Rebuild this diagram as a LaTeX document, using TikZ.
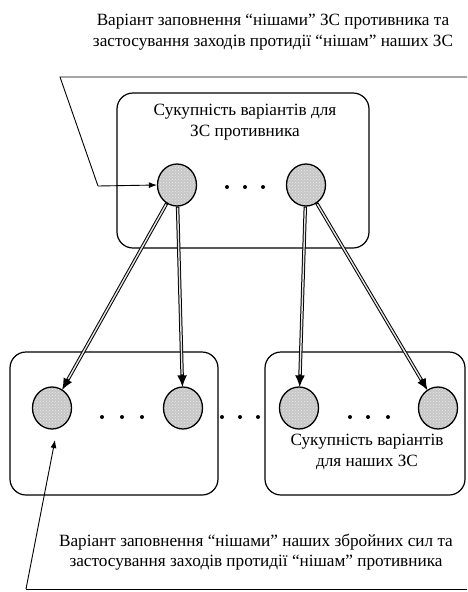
\documentclass[tikz,border=0pt]{standalone}
\usepackage{fontspec}
\setmainfont{Liberation Serif}
\usetikzlibrary{shapes.geometric,patterns,arrows.meta}

\tikzset{
  varbox/.style={draw, line width=1.2pt, rounded corners=16pt},
  niche/.style={ellipse, draw, line width=1.3pt, minimum width=39pt, minimum height=42pt,
    preaction={fill=gray!45}, pattern=crosshatch dots, pattern color=white!85!gray},
  caption/.style={align=center, font=\fontsize{17.2}{20.5}\selectfont},
  link/.style={line width=3.4pt, -{Latex[length=12pt,width=10pt]}, shorten >=-1pt,
    postaction={draw=gray!20, line width=1.4pt, -, shorten >=12pt, shorten <=1pt}},
  pointer/.style={line width=0.9pt, -{Latex[length=8pt,width=6pt]}}
}

\begin{document}
\begin{tikzpicture}[x=1pt,y=-1pt]
  \useasboundingbox (0,0) rectangle (467,592);

  % groups of variants
  \node[varbox, minimum width=252pt, minimum height=155pt] (enemy) at (243,170.5) {};
  \node[varbox, minimum width=208pt, minimum height=143pt] (oursA) at (114,423.5) {};
  \node[varbox, minimum width=200pt, minimum height=143pt] (oursB) at (365,423.5) {};

  % texts
  \node[caption] (toptxt) at (273,32) {Варіант заповнення “нішами” ЗС противника та\\застосування заходів протидії “нішам” наших ЗС};
  \node[caption] (enemytxt) at (245,122) {Сукупність варіантів для\\ЗС противника};
  \node[caption] (ourstxt) at (367,452) {Сукупність варіантів\\для наших ЗС};
  \node[caption] (bottxt) at (256,552) {Варіант заповнення “нішами” наших збройних сил та\\застосування заходів протидії “нішам” противника};

  % niches
  \node[niche] (t1) at (177,185) {};
  \node[niche] (t2) at (306,185) {};
  \node[niche] (b1) at (52,408) {};
  \node[niche] (b2) at (183,408) {};
  \node[niche] (b3) at (299,408) {};
  \node[niche] (b4) at (438,408) {};

  % dots
  \foreach \x/\y in {227/187, 245/187, 263/187,
                     102/417, 122/417, 142/417,
                     222/417, 240/417, 258/417,
                     350/417, 368/417, 388/417}
    \fill (\x,\y) circle (2pt);

  % links
  \draw[link] (t1) -- (b1);
  \draw[link] (t1) -- (b2);
  \draw[link] (t2) -- (b3);
  \draw[link] (t2) -- (b4);

  % callouts
  \coordinate (tr) at (467,77);
  \coordinate (tl) at (60,77);
  \coordinate (tk) at (98,186);
  \draw[line width=0.9pt] (tr) -- (tl) -- (tk);
  \draw[pointer] (tk) -- (t1.west);

  \coordinate (br) at (467,589);
  \coordinate (bl) at (26,589);
  \coordinate (bt) at (55,440);
  \draw[line width=0.9pt] (br) -- (bl);
  \draw[pointer] (bl) -- (bt);
\end{tikzpicture}
\end{document}
